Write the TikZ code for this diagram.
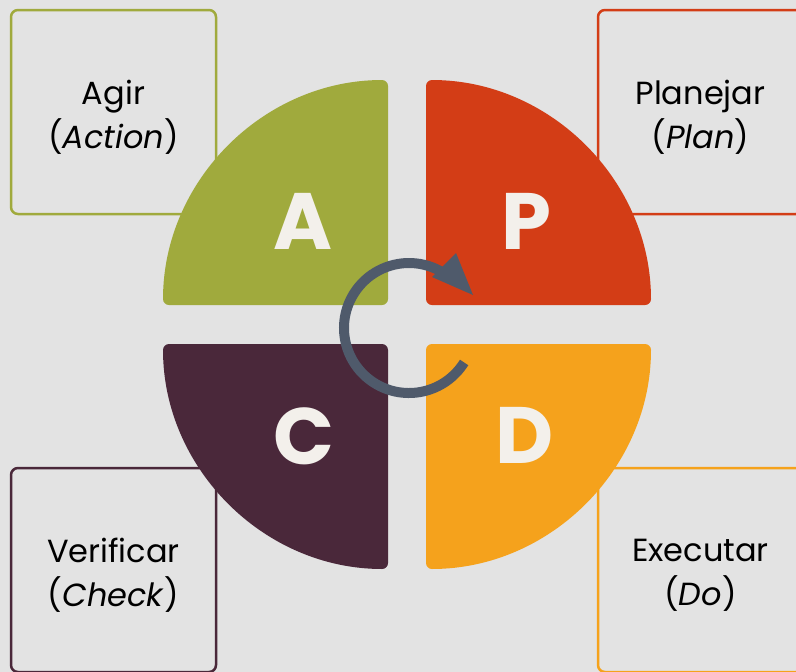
\documentclass[tikz,border=0pt]{standalone}
\usepackage{fontspec}
\setmainfont{Poppins}
\definecolor{PdcaGreen}{RGB}{160,170,61}
\definecolor{PdcaRed}{RGB}{211,61,22}
\definecolor{PdcaPlum}{RGB}{74,40,58}
\definecolor{PdcaOrange}{RGB}{245,162,28}
\definecolor{PdcaSlate}{RGB}{79,90,107}
\definecolor{PdcaGray}{RGB}{227,227,227}
\definecolor{PdcaWhite}{RGB}{243,240,235}

\begin{document}
\begin{tikzpicture}[x=1pt,y=-1pt,
		box/.style={draw=#1, line width=2.5pt, rounded corners=7pt, fill=PdcaGray,
			minimum width=205pt, minimum height=204pt, inner sep=0pt},
		boxtext/.style={align=center, font=\fontsize{32}{44}\selectfont, text=black, inner sep=0pt},
		letter/.style={text=PdcaWhite, font=\bfseries\fontsize{80}{80}\selectfont, inner sep=0pt}]
		\fill[PdcaGray] (0, 0) rectangle (796, 672);
		\useasboundingbox (0, 0) rectangle (796, 672);
		\begin{scope}
		\clip (0, 0) rectangle (796, 672);
		\node[box=PdcaGreen] (act) at (113.5, 112) {};
		\node[box=PdcaRed] (plan) at (700.5, 112) {};
		\node[box=PdcaPlum] (check) at (113.5, 570) {};
		\node[box=PdcaOrange] (do) at (700.5, 570) {};
		\end{scope}
		\node[boxtext] (actText) at ([yshift=-5pt]act.center) {Agir\\(\textit{Action})};
		\node[boxtext] (planText) at ([yshift=-5pt]plan.center) {Planejar\\(\textit{Plan})};
		\node[boxtext] (checkText) at ([yshift=-5pt]check.center) {Verificar\\(\textit{Check})};
		\node[boxtext] (doText) at ([yshift=-5pt]do.center) {Executar\\(\textit{Do})};
		\fill[PdcaGreen, rounded corners=6pt]
		(388, 305) -- (163, 305) arc[start angle=180, end angle=270, radius=225] -- cycle;
		\fill[PdcaRed, rounded corners=6pt]
		(426, 305) -- (426, 80) arc[start angle=270, end angle=360, radius=225] -- cycle;
		\fill[PdcaPlum, rounded corners=6pt]
		(388, 344) -- (163, 344) arc[start angle=180, end angle=90, radius=225] -- cycle;
		\fill[PdcaOrange, rounded corners=6pt]
		(426, 344) -- (651, 344) arc[start angle=0, end angle=90, radius=225] -- cycle;
		\node[letter] (lA) at (303, 221) {A};
		\node[letter] (lP) at (526, 221) {P};
		\node[letter] (lC) at (304, 436) {C};
		\node[letter] (lD) at (525, 435) {D};
		\draw[line width=10pt, draw=PdcaSlate]
		(409, 328) ++(32:65) arc[start angle=32, end angle=303, radius=65];
		\fill[PdcaSlate] (456, 253) -- (473, 295) -- (432, 277) -- cycle;
	\end{tikzpicture}
\end{document}
